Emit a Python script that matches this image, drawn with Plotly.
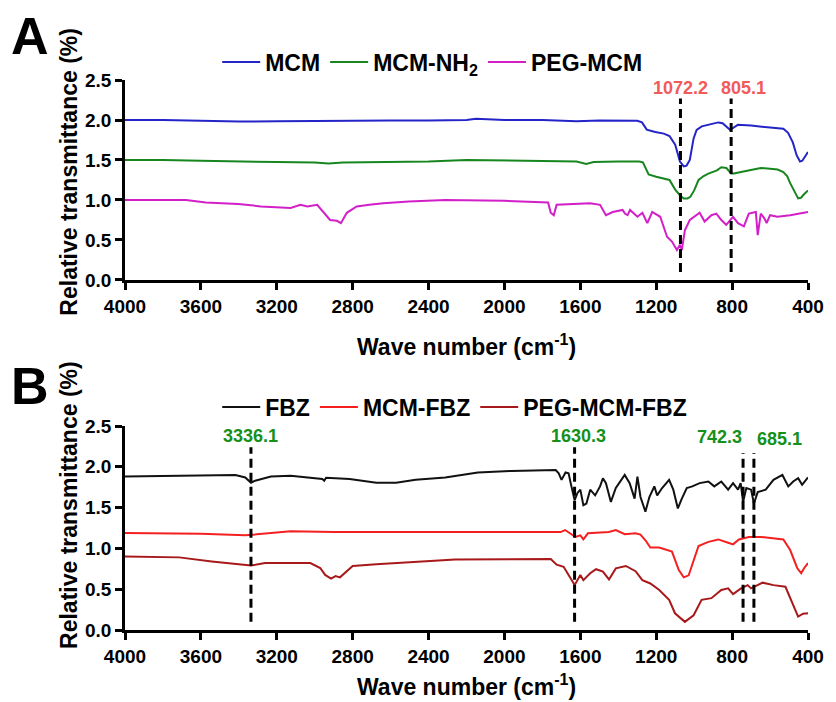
import plotly.graph_objects as go

# ---- panel A data (wavenumber cm-1, relative transmittance) ----
mcm_wn = [4000, 3800, 3600, 3400, 3200, 3000, 2800, 2600, 2400, 2200, 2150, 2000, 1800, 1620, 1500,
          1300, 1275, 1250, 1205, 1160, 1130, 1100, 1075, 1055, 1040, 1023, 1003, 987, 960, 920, 873,
          850, 825, 810, 795, 770, 700, 620, 570, 530, 505, 480, 460, 442, 430, 415, 400]
mcm_val = [2.00, 2.00, 1.99, 1.98, 1.985, 1.99, 1.99, 1.995, 1.995, 2.00, 2.015, 2.00, 2.00, 1.985, 1.995,
           1.99, 1.97, 1.88, 1.85, 1.83, 1.80, 1.69, 1.48, 1.42, 1.43, 1.50, 1.77, 1.875, 1.92, 1.94, 1.97,
           1.96, 1.90, 1.875, 1.90, 1.94, 1.93, 1.91, 1.90, 1.89, 1.84, 1.72, 1.56, 1.48, 1.49, 1.55, 1.60]

nh2_wn = [4000, 3800, 3600, 3400, 3200, 3000, 2927, 2850, 2600, 2400, 2200, 2000, 1800, 1620, 1569,
          1530, 1400, 1290, 1270, 1240, 1200, 1160, 1130, 1100, 1075, 1055, 1035, 1020, 1000, 977,
          950, 925, 880, 857, 830, 805, 790, 753, 700, 649, 600, 560, 530, 510, 494, 470, 452, 435, 426, 400]
nh2_val = [1.50, 1.50, 1.49, 1.48, 1.475, 1.47, 1.455, 1.47, 1.475, 1.48, 1.50, 1.49, 1.485, 1.48, 1.45,
           1.475, 1.48, 1.48, 1.47, 1.32, 1.29, 1.27, 1.25, 1.13, 1.06, 1.02, 1.02, 1.04, 1.12, 1.25,
           1.30, 1.33, 1.37, 1.41, 1.40, 1.33, 1.33, 1.35, 1.38, 1.40, 1.39, 1.38, 1.35, 1.30, 1.21, 1.10,
           1.02, 1.03, 1.06, 1.12]

peg_wn = [4000, 3800, 3678, 3574, 3403, 3283, 3127, 3075, 3039, 2987, 2951, 2919, 2883, 2862, 2831,
          2779, 2712, 2639, 2504, 2312, 2000, 1792, 1770, 1756, 1740, 1725, 1650, 1548, 1496, 1465,
          1429, 1400, 1377, 1365, 1351, 1338, 1320, 1299, 1273, 1247, 1221, 1179, 1143, 1117, 1091,
          1075, 1065, 1049, 1023, 997, 971, 945, 909, 883, 857, 831, 795, 769, 738, 712, 675, 665,
          649, 630, 618, 600, 561, 494, 400]
peg_val = [1.00, 1.00, 1.00, 0.97, 0.95, 0.92, 0.90, 0.94, 0.92, 0.94, 0.84, 0.75, 0.74, 0.71, 0.84,
           0.92, 0.94, 0.96, 0.98, 1.00, 0.99, 0.98, 0.97, 0.84, 0.81, 0.94, 0.95, 0.96, 0.94, 0.81,
           0.85, 0.86, 0.875, 0.83, 0.81, 0.875, 0.83, 0.79, 0.84, 0.71, 0.85, 0.79, 0.54, 0.48, 0.375,
           0.44, 0.375, 0.62, 0.75, 0.79, 0.84, 0.73, 0.81, 0.83, 0.75, 0.69, 0.79, 0.71, 0.67, 0.83,
           0.85, 0.56, 0.83, 0.77, 0.71, 0.81, 0.79, 0.81, 0.85]

# ---- panel B data ----
fbz_wn = [4000, 3714, 3418, 3366, 3336, 3314, 3231, 3127, 3023, 2960, 2950, 2940, 2816, 2675, 2571,
          2468, 2312, 2140, 1964, 1750, 1730, 1714, 1699, 1678, 1662, 1647, 1630, 1615, 1600, 1584,
          1568, 1548, 1522, 1496, 1481, 1465, 1439, 1413, 1366, 1340, 1314, 1299, 1283, 1257, 1236,
          1210, 1195, 1169, 1132, 1110, 1086, 1065, 1039, 1010, 971, 925, 894, 857, 821, 795, 769,
          755, 742, 725, 700, 685, 665, 623, 582, 535, 504, 478, 452, 431, 400]
fbz_val = [1.88, 1.89, 1.90, 1.87, 1.805, 1.83, 1.88, 1.89, 1.87, 1.85, 1.83, 1.865, 1.85, 1.805, 1.805,
           1.84, 1.87, 1.93, 1.95, 1.96, 1.96, 1.92, 1.84, 1.93, 1.92, 1.76, 1.59, 1.68, 1.72, 1.53,
           1.55, 1.72, 1.65, 1.76, 1.86, 1.80, 1.57, 1.74, 1.90, 1.80, 1.61, 1.88, 1.63, 1.45, 1.63,
           1.76, 1.65, 1.74, 1.84, 1.72, 1.49, 1.61, 1.74, 1.76, 1.80, 1.82, 1.76, 1.82, 1.72, 1.80, 1.72,
           1.80, 1.57, 1.74, 1.72, 1.55, 1.69, 1.72, 1.84, 1.90, 1.76, 1.82, 1.86, 1.78, 1.87]

mcmfbz_wn = [4000, 3600, 3366, 3195, 3127, 2900, 2260, 1704, 1680, 1626, 1600, 1584, 1560, 1450, 1413,
             1366, 1309, 1283, 1257, 1231, 1184, 1117, 1081, 1055, 1029, 1003, 977, 925, 873, 821,
             795, 764, 712, 649, 530, 494, 457, 436, 420, 400]
mcmfbz_val = [1.19, 1.18, 1.16, 1.19, 1.21, 1.20, 1.20, 1.20, 1.225, 1.14, 1.16, 1.11, 1.185, 1.20, 1.225,
              1.175, 1.185, 1.17, 1.10, 1.01, 1.01, 0.96, 0.735, 0.645, 0.67, 0.84, 1.03, 1.08, 1.11, 1.07,
              1.05, 1.11, 1.14, 1.14, 1.11, 0.98, 0.76, 0.695, 0.76, 0.82]

pegfbz_wn = [4000, 3714, 3543, 3366, 3336, 3262, 3023, 2971, 2945, 2914, 2890, 2867, 2831, 2800, 2675,
             2260, 1756, 1725, 1688, 1647, 1630, 1600, 1584, 1548, 1517, 1481, 1449, 1413, 1360, 1309,
             1273, 1231, 1184, 1132, 1101, 1049, 1003, 961, 909, 857, 821, 795, 753, 718, 700, 639,
             582, 519, 483, 452, 426, 400]
pegfbz_val = [0.90, 0.89, 0.84, 0.80, 0.79, 0.82, 0.82, 0.76, 0.675, 0.63, 0.66, 0.645, 0.715, 0.785, 0.805,
              0.865, 0.87, 0.80, 0.775, 0.61, 0.55, 0.675, 0.61, 0.695, 0.745, 0.715, 0.62, 0.755, 0.785, 0.72,
              0.61, 0.57, 0.49, 0.37, 0.205, 0.10, 0.18, 0.37, 0.39, 0.49, 0.51, 0.44, 0.51, 0.55, 0.51, 0.58,
              0.55, 0.53, 0.33, 0.165, 0.20, 0.205]

peaks_a = [1072.2, 805.1]
peaks_b = [3336.1, 1630.3, 742.3, 685.1]

x_ticks = [4000, 3600, 3200, 2800, 2400, 2000, 1600, 1200, 800, 400]
y_ticks = [0, 0.5, 1.0, 1.5, 2.0, 2.5]

FONT = "Arial, 'Liberation Sans', sans-serif"

fig = go.Figure()

series_a = [("MCM", mcm_wn, mcm_val, "#2424c8"),
            ("MCM-NH<sub>2</sub>", nh2_wn, nh2_val, "#17861f"),
            ("PEG-MCM", peg_wn, peg_val, "#d21fc8")]
series_b = [("FBZ", fbz_wn, fbz_val, "#111111"),
            ("MCM-FBZ", mcmfbz_wn, mcmfbz_val, "#f42020"),
            ("PEG-MCM-FBZ", pegfbz_wn, pegfbz_val, "#a8191b")]

for name, wn, val, col in series_a:
    fig.add_trace(go.Scatter(x=wn, y=val, name=name, mode="lines",
                             line=dict(color=col, width=2), xaxis="x", yaxis="y", legend="legend"))
for name, wn, val, col in series_b:
    fig.add_trace(go.Scatter(x=wn, y=val, name=name, mode="lines",
                             line=dict(color=col, width=2), xaxis="x2", yaxis="y2", legend="legend2"))

axis_style = dict(showline=True, linecolor="black", linewidth=2.5, ticks="outside", ticklen=7,
                  tickwidth=2.5, tickcolor="black", showgrid=False, zeroline=False,
                  tickfont=dict(family=FONT, size=19, color="black", weight="bold"))

# the page body adds an 8px offset, so the figure is 8px smaller than the window
fig.update_layout(
    width=828, height=694,
    margin=dict(l=117, r=18, t=72, b=72),
    paper_bgcolor="white", plot_bgcolor="white",
    font=dict(family=FONT, color="black"),
    xaxis=dict(domain=[0, 1], anchor="y", range=[4000, 400], tickvals=x_ticks, **axis_style),
    yaxis=dict(domain=[0.6364, 1], anchor="x", range=[0, 2.5], tickvals=y_ticks, tickformat=".1f", **axis_style),
    xaxis2=dict(domain=[0, 1], anchor="y2", range=[4000, 400], tickvals=x_ticks, **axis_style),
    yaxis2=dict(domain=[0, 0.3709], anchor="x2", range=[0, 2.5], tickvals=y_ticks, tickformat=".1f", **axis_style),
    legend=dict(orientation="h", x=0.135, xanchor="left", y=1.0327, yanchor="middle",
                font=dict(size=23, weight="bold"), bgcolor="rgba(0,0,0,0)", itemwidth=38),
    legend2=dict(orientation="h", x=0.135, xanchor="left", y=0.4055, yanchor="middle",
                 font=dict(size=23, weight="bold"), bgcolor="rgba(0,0,0,0)", itemwidth=38),
)

# dashed peak markers
for p in peaks_a:
    fig.add_shape(type="line", xref="x", yref="y", x0=p, x1=p, y0=0.1, y1=2.27,
                  line=dict(color="black", width=3, dash="9px,5px"))
for p in peaks_b:
    top = 2.24 if p > 1000 else 2.17
    fig.add_shape(type="line", xref="x2", yref="y2", x0=p, x1=p, y0=0.1, y1=top,
                  line=dict(color="black", width=3, dash="9px,5px"))

red_lbl = dict(family=FONT, size=18, color="#f25a5a", weight="bold")
green_lbl = dict(family=FONT, size=18, color="#15901a", weight="bold")
fig.add_annotation(x=peaks_a[0], y=2.4, xref="x", yref="y", text=f"{peaks_a[0]}", showarrow=False,
                   xanchor="center", font=red_lbl)
fig.add_annotation(x=peaks_a[1], y=2.4, xref="x", yref="y", text=f"{peaks_a[1]}", showarrow=False,
                   xanchor="center", xshift=12, font=red_lbl)
fig.add_annotation(x=peaks_b[0], y=2.38, xref="x2", yref="y2", text=f"{peaks_b[0]}", showarrow=False,
                   xanchor="center", font=green_lbl)
fig.add_annotation(x=peaks_b[1], y=2.38, xref="x2", yref="y2", text=f"{peaks_b[1]}", showarrow=False,
                   xanchor="center", xshift=4, font=green_lbl)
fig.add_annotation(x=peaks_b[2], y=2.36, xref="x2", yref="y2", text=f"{peaks_b[2]}", showarrow=False,
                   xanchor="right", xshift=1, font=green_lbl)
fig.add_annotation(x=peaks_b[3], y=2.34, xref="x2", yref="y2", text=f"{peaks_b[3]}", showarrow=False,
                   xanchor="left", xshift=1, font=green_lbl)

# axis titles and panel letters
title_font = dict(family=FONT, size=23, color="black", weight="bold")
for ypos in [0.518, -0.1]:
    fig.add_annotation(x=0.5, y=ypos, xref="paper", yref="paper", text="Wave number (cm<sup>-1</sup>)",
                       xanchor="center", yanchor="middle", showarrow=False, font=title_font)
for ypos in [0.833, 0.227]:
    fig.add_annotation(x=-0.0823, y=ypos, xref="paper", yref="paper", text="Relative transmittance (%)",
                       textangle=-90, xanchor="center", yanchor="middle", showarrow=False, font=title_font)
for letter, ypos in [("A", 1.08), ("B", 0.4436)]:
    fig.add_annotation(x=-0.1385, y=ypos, xref="paper", yref="paper", text=letter, showarrow=False,
                       xanchor="center", yanchor="middle",
                       font=dict(family=FONT, size=52, color="black", weight="bold"))

fig.write_html("out.html")
